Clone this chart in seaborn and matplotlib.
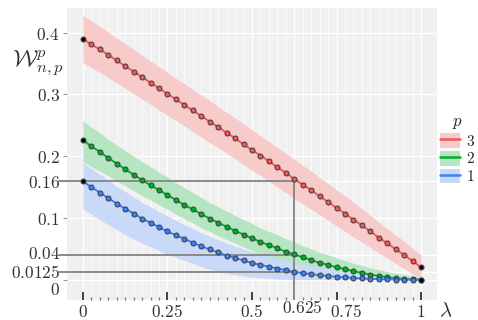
import numpy as np
import pandas as pd
import matplotlib
matplotlib.use("Agg")
import matplotlib.pyplot as plt
import matplotlib.transforms as mtransforms
import seaborn as sns
from matplotlib.patches import Patch
from matplotlib.lines import Line2D

# -----------------------------
# Data
# -----------------------------
lam = np.linspace(0, 1, 41)

w_p3 = [0.390, 0.381, 0.373, 0.364, 0.355, 0.346, 0.337, 0.328, 0.319, 0.310,
        0.301, 0.292, 0.283, 0.274, 0.265, 0.256, 0.247, 0.238, 0.229, 0.219,
        0.210, 0.201, 0.192, 0.182, 0.173, 0.163, 0.154, 0.145, 0.135, 0.126,
        0.116, 0.107, 0.097, 0.088, 0.078, 0.068, 0.059, 0.049, 0.040, 0.030,
        0.020]
w_p2 = [0.226, 0.216, 0.207, 0.197, 0.188, 0.179, 0.170, 0.161, 0.153, 0.145,
        0.137, 0.129, 0.121, 0.114, 0.106, 0.099, 0.092, 0.086, 0.079, 0.073,
        0.067, 0.061, 0.056, 0.051, 0.045, 0.041, 0.036, 0.032, 0.027, 0.024,
        0.020, 0.017, 0.0135, 0.011, 0.008, 0.006, 0.004, 0.0024, 0.0012, 0.0004,
        0.0]
w_p1 = [0.159, 0.150, 0.141, 0.132, 0.123, 0.115, 0.107, 0.099, 0.092, 0.085,
        0.078, 0.072, 0.066, 0.060, 0.054, 0.049, 0.044, 0.039, 0.035, 0.031,
        0.027, 0.024, 0.021, 0.018, 0.0155, 0.0125, 0.0105, 0.0088, 0.0072, 0.0058,
        0.0046, 0.0036, 0.0027, 0.0019, 0.0013, 0.0008, 0.0005, 0.0002, 0.0001, 0.0,
        0.0]

# band half-widths (above / below the curve)
band_p3 = [0.038, 0.038, 0.037, 0.037, 0.036, 0.036, 0.036, 0.035, 0.035, 0.035,
           0.035, 0.034, 0.034, 0.034, 0.034, 0.034, 0.033, 0.033, 0.033, 0.033,
           0.033, 0.032, 0.032, 0.032, 0.032, 0.032, 0.031, 0.031, 0.030, 0.030,
           0.029, 0.029, 0.028, 0.027, 0.026, 0.025, 0.024, 0.023, 0.022, 0.021,
           0.020]
up_p2 = [0.031, 0.031, 0.031, 0.030, 0.030, 0.030, 0.030, 0.030, 0.030, 0.029,
         0.029, 0.028, 0.028, 0.027, 0.027, 0.026, 0.026, 0.025, 0.025, 0.024,
         0.024, 0.023, 0.022, 0.022, 0.021, 0.020, 0.019, 0.018, 0.017, 0.016,
         0.015, 0.014, 0.013, 0.012, 0.011, 0.010, 0.009, 0.008, 0.007, 0.006,
         0.005]
lo_p2 = [0.035, 0.033, 0.031, 0.029, 0.028, 0.027, 0.026, 0.025, 0.024, 0.024,
         0.023, 0.023, 0.022, 0.022, 0.022, 0.021, 0.021, 0.021, 0.020, 0.020,
         0.020, 0.020, 0.020, 0.020, 0.020, 0.020, 0.019, 0.018, 0.017, 0.016,
         0.015, 0.014, 0.012, 0.011, 0.008, 0.006, 0.004, 0.0024, 0.0012, 0.0004,
         0.0]
up_p1 = [0.031, 0.030, 0.030, 0.029, 0.028, 0.028, 0.027, 0.026, 0.026, 0.025,
         0.025, 0.024, 0.023, 0.023, 0.022, 0.021, 0.021, 0.020, 0.019, 0.019,
         0.018, 0.017, 0.017, 0.016, 0.015, 0.015, 0.014, 0.013, 0.013, 0.012,
         0.011, 0.011, 0.010, 0.009, 0.009, 0.008, 0.007, 0.007, 0.006, 0.005,
         0.005]
lo_p1 = [0.045, 0.044, 0.044, 0.043, 0.042, 0.042, 0.041, 0.040, 0.039, 0.038,
         0.037, 0.036, 0.035, 0.034, 0.033, 0.032, 0.030, 0.029, 0.027, 0.025,
         0.023, 0.021, 0.019, 0.017, 0.015, 0.013, 0.011, 0.009, 0.008, 0.006,
         0.005, 0.004, 0.003, 0.002, 0.0014, 0.0009, 0.0005, 0.0002, 0.0001, 0.0,
         0.0]

x_ticks = [0, 0.25, 0.5, 0.625, 0.75, 1]
x_labels = ["0", "0.25", "0.5", "0.625", "0.75", "1"]
y_ticks = [0, 0.0125, 0.04, 0.1, 0.16, 0.2, 0.3, 0.4]
y_labels = ["0", "0.0125", "0.04", "0.1", "0.16", "0.2", "0.3", "0.4"]

# reference guides
lam_ref = 0.625
w_refs = [0.16, 0.04, 0.0125]

line_colors = {"3": "#F25858", "2": "#00AE2E", "1": "#3F80F2"}
band_colors = {"3": "#F7CBCA", "2": "#B5E5C1", "1": "#C8DAF7"}

df = pd.concat([
    pd.DataFrame({"lam": lam, "W": w_p3, "p": "3"}),
    pd.DataFrame({"lam": lam, "W": w_p2, "p": "2"}),
    pd.DataFrame({"lam": lam, "W": w_p1, "p": "1"}),
], ignore_index=True)

bands = {
    "3": (np.array(w_p3) - np.array(band_p3), np.array(w_p3) + np.array(band_p3)),
    "2": (np.array(w_p2) - np.array(lo_p2), np.array(w_p2) + np.array(up_p2)),
    "1": (np.array(w_p1) - np.array(lo_p1), np.array(w_p1) + np.array(up_p1)),
}

# -----------------------------
# Plot
# -----------------------------
sns.set_theme(style="darkgrid", rc={"axes.facecolor": "#F0F0F0"})
plt.rcParams["mathtext.fontset"] = "cm"

fig = plt.figure(figsize=(4.78, 3.2), dpi=100)
ax = fig.add_axes([67 / 478, 20 / 320, 370 / 478, 292 / 320])

for p in ["3", "2", "1"]:
    lo, hi = bands[p]
    ax.fill_between(lam, np.clip(lo, 0, None), hi, color=band_colors[p],
                    lw=0, zorder=1)

# grey guide lines
for w in w_refs:
    ax.plot([-0.072, lam_ref], [w, w], color="#8A8A8A", lw=1.4,
            clip_on=False, zorder=2)
ax.plot([lam_ref, lam_ref], [-0.033, 0.16], color="#8A8A8A", lw=1.4, zorder=2)

sns.lineplot(data=df, x="lam", y="W", hue="p", palette=line_colors,
             marker="o", markersize=3.6, markeredgecolor="#3A3A3A",
             markeredgewidth=0.7, linewidth=1.4, legend=False, ax=ax,
             zorder=3)

ends = df[(df["lam"] == 0) | (df["lam"] == 1)]
sns.scatterplot(data=ends, x="lam", y="W", color="black", s=7,
                linewidth=0, ax=ax, zorder=4)

ax.set_xlim(-0.047, 1.047)
ax.set_ylim(-0.033, 0.44)
ax.set_xticks(x_ticks)
ax.set_xticklabels([f"${t}$" for t in x_labels])
ax.set_xticks(lam, minor=True)
ax.set_yticks(y_ticks)
ax.set_yticklabels([f"${t}$" for t in y_labels])
ax.set_xlabel("")
ax.set_ylabel("")

ax.grid(which="major", color="white", lw=1.0)
ax.grid(which="minor", axis="x", color="white", lw=0.5)
for s in ax.spines.values():
    s.set_visible(False)

ax.tick_params(axis="x", which="major", direction="in", length=6, width=1.3,
               color="#333333", bottom=True, pad=2.5, labelsize=12.5,
               labelcolor="#333333")
ax.tick_params(axis="x", which="minor", direction="in", length=2, width=0.9,
               color="#777777", bottom=True)
ax.tick_params(axis="y", which="major", direction="out", length=3, width=0.8,
               color="#999999", left=True, pad=2, labelsize=12.5,
               labelcolor="#333333")

# nudge crowded tick labels the way the reference does (offsets in points)
x_nudge = {"0.625": (6, 3), "0.75": (7, 0)}
y_nudge = {"0": (0, -6), "0.0125": (0, 0.5), "0.04": (0, 2)}
for tick, lab in zip(ax.xaxis.get_major_ticks(), x_labels):
    if lab in x_nudge:
        dx, dy = x_nudge[lab]
        off = mtransforms.ScaledTranslation(dx / 72, dy / 72, fig.dpi_scale_trans)
        tick.label1.set_transform(tick.label1.get_transform() + off)
for tick, lab in zip(ax.yaxis.get_major_ticks(), y_labels):
    if lab in y_nudge:
        dx, dy = y_nudge[lab]
        off = mtransforms.ScaledTranslation(dx / 72, dy / 72, fig.dpi_scale_trans)
        tick.label1.set_transform(tick.label1.get_transform() + off)

fig.text(38 / 478, 1 - 63 / 320, r"$\mathcal{W}^p_{n,p}$", fontsize=17,
         ha="center", va="center", color="#333333")
fig.text(446 / 478, 1 - 310 / 320, r"$\lambda$", fontsize=15,
         ha="center", va="center", color="#333333")

handles = [(Patch(facecolor=band_colors[p], edgecolor="none"),
            Line2D([], [], color=line_colors[p], lw=1.8)) for p in ["3", "2", "1"]]
leg = fig.legend(handles, ["$3$", "$2$", "$1$"], title="$p$",
                 loc="center left", bbox_to_anchor=(440 / 478, 1 - 148 / 320),
                 frameon=False, fontsize=11, title_fontsize=12,
                 handlelength=1.3, handleheight=1.1, handletextpad=0.4,
                 labelspacing=0.15, borderaxespad=0, borderpad=0)

fig.savefig("out.png", dpi=100)
